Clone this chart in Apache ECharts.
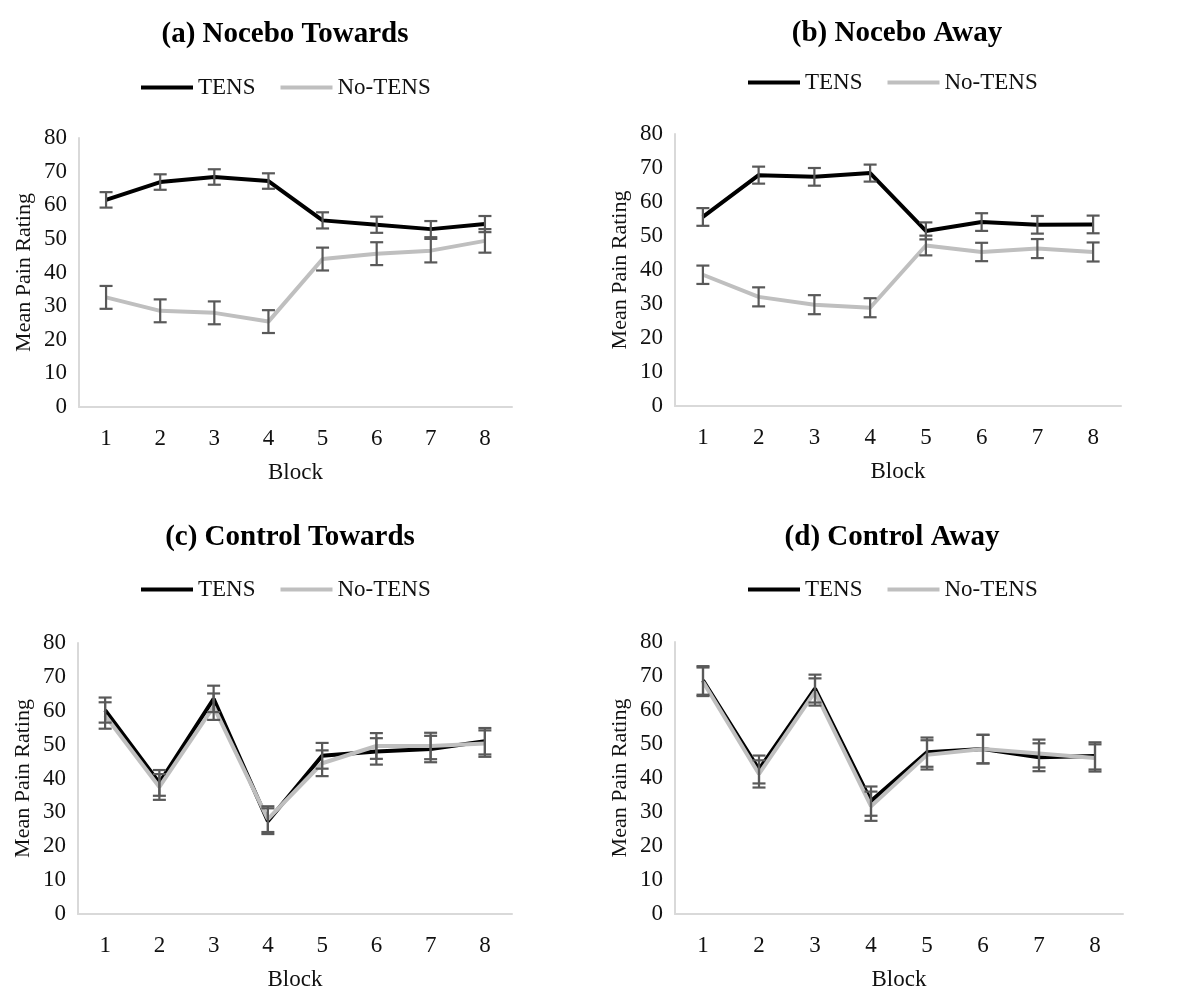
<!DOCTYPE html>
<html>
<head>
<meta charset="utf-8">
<title>Mean Pain Rating by Block</title>
<script src="https://cdn.jsdelivr.net/npm/echarts@6/dist/echarts.min.js"></script>
<style>
  html, body { margin: 0; padding: 0; background: #fff; }
  #chart { width: 1182px; height: 992px; }
</style>
</head>
<body>
<div id="chart"></div>
<script>
// Blocks along the x axis
const blocks = ['1', '2', '3', '4', '5', '6', '7', '8'];
const seriesNames = ['TENS', 'No-TENS'];

// (a) Nocebo Towards: means and standard errors
const nocTowardsTens = [61.6, 66.9, 68.4, 67.2, 55.5, 54.2, 52.9, 54.4];
const nocTowardsTensErr = [2.3, 2.3, 2.3, 2.3, 2.4, 2.4, 2.4, 2.4];
const nocTowardsNo = [32.6, 28.6, 28.0, 25.4, 44.0, 45.6, 46.5, 49.4];
const nocTowardsNoErr = [3.4, 3.4, 3.4, 3.4, 3.4, 3.4, 3.5, 3.5];

// (b) Nocebo Away
const nocAwayTens = [55.6, 67.9, 67.4, 68.5, 51.5, 54.1, 53.3, 53.4];
const nocAwayTensErr = [2.6, 2.5, 2.6, 2.5, 2.5, 2.6, 2.6, 2.6];
const nocAwayNo = [38.6, 32.1, 29.8, 28.9, 47.2, 45.3, 46.3, 45.3];
const nocAwayNoErr = [2.7, 2.8, 2.8, 2.8, 2.9, 2.7, 2.8, 2.8];

// (c) Control Towards
const ctlTowardsTens = [60.2, 38.7, 63.5, 27.4, 46.7, 48.0, 48.7, 51.0];
const ctlTowardsTensErr = [3.7, 3.8, 3.9, 3.8, 3.8, 3.9, 3.9, 3.9];
const ctlTowardsNo = [58.6, 37.5, 61.2, 28.0, 44.5, 49.6, 49.6, 50.3];
const ctlTowardsNoErr = [3.9, 3.8, 3.9, 3.8, 3.8, 3.8, 3.9, 3.9];

// (d) Control Away
const ctlAwayTens = [68.7, 42.5, 66.3, 33.2, 47.6, 48.5, 46.1, 46.5];
const ctlAwayTensErr = [4.2, 4.1, 4.1, 4.3, 4.3, 4.2, 4.1, 4.0];
const ctlAwayNo = [68.3, 41.2, 65.3, 31.7, 46.8, 48.5, 47.2, 45.9];
const ctlAwayNoErr = [4.2, 4.0, 4.0, 4.3, 4.3, 4.2, 4.1, 4.0];

const panelTitles = ['(a) Nocebo Towards', '(b) Nocebo Away', '(c) Control Towards', '(d) Control Away'];

const panels = [
  { tens: nocTowardsTens, tensErr: nocTowardsTensErr, no: nocTowardsNo, noErr: nocTowardsNoErr },
  { tens: nocAwayTens, tensErr: nocAwayTensErr, no: nocAwayNo, noErr: nocAwayNoErr },
  { tens: ctlTowardsTens, tensErr: ctlTowardsTensErr, no: ctlTowardsNo, noErr: ctlTowardsNoErr },
  { tens: ctlAwayTens, tensErr: ctlAwayTensErr, no: ctlAwayNo, noErr: ctlAwayNoErr }
];

// Layout of each panel: plot rectangle, title centre, legend placement
const layout = [
  { grid: { left: 79, top: 138, width: 433, height: 269 }, titleX: 285, titleY: 20, legendX: 141, legendY: 76 },
  { grid: { left: 675, top: 134, width: 446, height: 272 }, titleX: 897, titleY: 19, legendX: 748, legendY: 71 },
  { grid: { left: 78, top: 643, width: 434, height: 274 }, titleX: 290, titleY: 523, legendX: 141, legendY: 578 },
  { grid: { left: 675, top: 642, width: 448, height: 272 }, titleX: 892, titleY: 523, legendX: 748, legendY: 578 }
];

const FONT = "'Liberation Serif', 'Times New Roman', serif";
const TEXT = '#111111';
const TENS_COLOR = '#000000';
const NO_COLOR = '#bfbfbf';
const ERR_COLOR = '#595959';
const AXIS_COLOR = '#d9d9d9';

function errorData(means, errs) {
  return means.map((m, i) => [i, m - errs[i], m + errs[i]]);
}

function renderErrorBar(params, api) {
  const x = api.value(0);
  const lo = api.coord([x, api.value(1)]);
  const hi = api.coord([x, api.value(2)]);
  const half = 6.5;
  const style = { stroke: ERR_COLOR, lineWidth: 2.2 };
  return {
    type: 'group',
    children: [
      { type: 'line', shape: { x1: hi[0], y1: hi[1], x2: lo[0], y2: lo[1] }, style },
      { type: 'line', shape: { x1: hi[0] - half, y1: hi[1], x2: hi[0] + half, y2: hi[1] }, style },
      { type: 'line', shape: { x1: lo[0] - half, y1: lo[1], x2: lo[0] + half, y2: lo[1] }, style }
    ]
  };
}

const option = {
  backgroundColor: '#ffffff',
  animation: false,
  textStyle: { fontFamily: FONT, color: TEXT },
  title: layout.map((l, i) => ({
    text: panelTitles[i],
    left: l.titleX,
    top: l.titleY,
    textAlign: 'center',
    padding: 0,
    textStyle: { fontFamily: FONT, fontSize: 29, fontWeight: 'bold', color: '#000' }
  })),
  legend: layout.map(l => ({
    data: seriesNames,
    left: l.legendX,
    top: l.legendY,
    padding: 0,
    icon: 'rect',
    itemWidth: 52,
    itemHeight: 4,
    itemGap: 25,
    textStyle: { fontFamily: FONT, fontSize: 23, color: TEXT }
  })),
  grid: layout.map(l => Object.assign({ containLabel: false }, l.grid)),
  xAxis: layout.map((l, i) => ({
    type: 'category',
    gridIndex: i,
    data: blocks,
    boundaryGap: true,
    name: 'Block',
    nameLocation: 'middle',
    nameGap: 54,
    nameTextStyle: { fontFamily: FONT, fontSize: 23, color: TEXT },
    axisLine: { lineStyle: { color: AXIS_COLOR, width: 2 } },
    axisTick: { show: false },
    axisLabel: { fontFamily: FONT, fontSize: 23, color: TEXT, margin: 20 },
    splitLine: { show: false }
  })),
  yAxis: layout.map((l, i) => ({
    type: 'value',
    gridIndex: i,
    min: 0,
    max: 80,
    interval: 10,
    name: 'Mean Pain Rating',
    nameLocation: 'middle',
    nameRotate: 90,
    nameGap: 44,
    nameTextStyle: { fontFamily: FONT, fontSize: 22, color: TEXT },
    axisLine: { show: true, lineStyle: { color: AXIS_COLOR, width: 2 } },
    axisTick: { show: false },
    axisLabel: { fontFamily: FONT, fontSize: 23, color: TEXT, margin: 12 },
    splitLine: { show: false }
  })),
  series: []
};

panels.forEach((p, i) => {
  option.series.push({
    name: 'TENS',
    type: 'line',
    xAxisIndex: i,
    yAxisIndex: i,
    data: p.tens,
    symbol: 'none',
    color: TENS_COLOR,
    lineStyle: { color: TENS_COLOR, width: 4 },
    z: 2
  });
  option.series.push({
    name: 'No-TENS',
    type: 'line',
    xAxisIndex: i,
    yAxisIndex: i,
    data: p.no,
    symbol: 'none',
    color: NO_COLOR,
    lineStyle: { color: NO_COLOR, width: 4 },
    z: 3
  });
  option.series.push({
    type: 'custom',
    xAxisIndex: i,
    yAxisIndex: i,
    renderItem: renderErrorBar,
    encode: { x: 0, y: [1, 2] },
    data: errorData(p.tens, p.tensErr),
    z: 4,
    silent: true
  });
  option.series.push({
    type: 'custom',
    xAxisIndex: i,
    yAxisIndex: i,
    renderItem: renderErrorBar,
    encode: { x: 0, y: [1, 2] },
    data: errorData(p.no, p.noErr),
    z: 4,
    silent: true
  });
});

const chart = echarts.init(document.getElementById('chart'), null, { renderer: 'canvas' });
chart.setOption(option);
</script>
</body>
</html>
